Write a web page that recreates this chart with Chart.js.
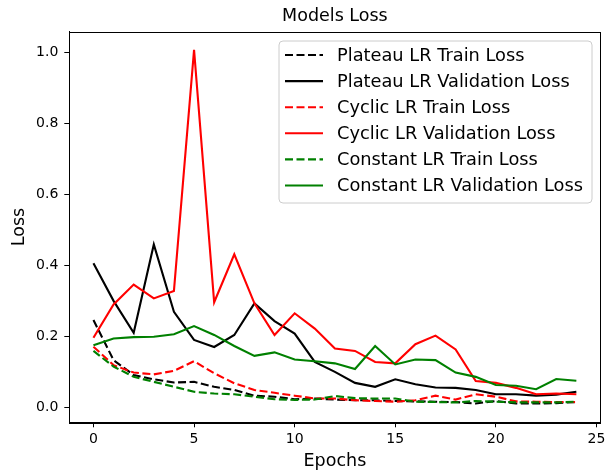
<!DOCTYPE html>
<html>
<head>
<meta charset="utf-8">
<script src="https://cdn.jsdelivr.net/npm/chart.js@4"></script>
<style>
  html, body { margin: 0; padding: 0; background: #fff; }
  #graf { display: block; }
</style>
</head>
<body>
<canvas id="graf" width="613" height="474"></canvas>
<script>
// datos
const epochs = [0, 1, 2, 3, 4, 5, 6, 7, 8, 9, 10, 11, 12, 13, 14, 15, 16, 17, 18, 19, 20, 21, 22, 23, 24];
const xTicks = [0, 5, 10, 15, 20, 25];
const yTicks = [0.0, 0.2, 0.4, 0.6, 0.8, 1.0];

const plateauTrain = [0.246, 0.133, 0.091, 0.079, 0.070, 0.072, 0.058, 0.049, 0.033, 0.030, 0.023, 0.025, 0.022, 0.020, 0.020, 0.018, 0.017, 0.016, 0.015, 0.011, 0.018, 0.011, 0.011, 0.012, 0.015];
const plateauVal = [0.406, 0.300, 0.210, 0.459, 0.269, 0.190, 0.170, 0.204, 0.293, 0.243, 0.208, 0.128, 0.100, 0.069, 0.058, 0.079, 0.065, 0.056, 0.055, 0.049, 0.037, 0.037, 0.033, 0.036, 0.044];
const cyclicTrain = [0.171, 0.119, 0.098, 0.093, 0.103, 0.130, 0.096, 0.068, 0.049, 0.041, 0.033, 0.025, 0.025, 0.020, 0.018, 0.016, 0.020, 0.033, 0.022, 0.037, 0.030, 0.017, 0.016, 0.015, 0.015];
const cyclicVal = [0.196, 0.290, 0.346, 0.307, 0.328, 1.007, 0.296, 0.431, 0.293, 0.204, 0.265, 0.222, 0.166, 0.159, 0.128, 0.124, 0.178, 0.202, 0.163, 0.074, 0.069, 0.055, 0.037, 0.039, 0.037];
const constantTrain = [0.159, 0.115, 0.086, 0.072, 0.058, 0.044, 0.039, 0.037, 0.030, 0.023, 0.021, 0.022, 0.032, 0.026, 0.025, 0.025, 0.016, 0.015, 0.014, 0.018, 0.016, 0.014, 0.014, 0.014, 0.016];
const constantVal = [0.175, 0.194, 0.198, 0.199, 0.206, 0.229, 0.204, 0.173, 0.145, 0.155, 0.135, 0.130, 0.124, 0.108, 0.173, 0.121, 0.135, 0.133, 0.098, 0.086, 0.063, 0.061, 0.051, 0.080, 0.075];

const fuente = "'DejaVu Sans', sans-serif";
const dash = [8, 3.5];

function serie(label, vals, color, dashed, orden) {
    return {
        label: label,
        data: epochs.map((e, i) => ({ x: e, y: vals[i] })),
        borderColor: color,
        backgroundColor: color,
        borderWidth: 2.1,
        borderDash: dashed ? dash : [],
        pointRadius: 0,
        tension: 0,
        fill: false,
        order: orden
    };
}

// marco completo de los ejes (arriba y derecha)
const marcoPlugin = {
    id: 'marco',
    beforeDatasetsDraw(chart) {
        const a = chart.chartArea, c = chart.ctx;
        c.save();
        c.strokeStyle = '#000';
        c.lineWidth = 1;
        c.strokeRect(Math.round(a.left) + 0.5, Math.round(a.top) + 0.5, Math.round(a.right - a.left), Math.round(a.bottom - a.top));
        c.restore();
    }
};

// leyenda dentro del area, arriba a la derecha
const leyendaPlugin = {
    id: 'leyendaDentro',
    afterDatasetsDraw(chart) {
        const c = chart.ctx;
        const x0 = 279, y0 = 41, w = 313, h = 162, r = 4;
        c.save();
        c.beginPath();
        c.moveTo(x0 + r, y0);
        c.arcTo(x0 + w, y0, x0 + w, y0 + h, r);
        c.arcTo(x0 + w, y0 + h, x0, y0 + h, r);
        c.arcTo(x0, y0 + h, x0, y0, r);
        c.arcTo(x0, y0, x0 + w, y0, r);
        c.closePath();
        c.fillStyle = 'rgba(255,255,255,0.8)';
        c.fill();
        c.strokeStyle = '#cccccc';
        c.lineWidth = 1;
        c.stroke();
        c.font = '17.8px ' + fuente;
        c.textBaseline = 'middle';
        c.textAlign = 'left';
        chart.data.datasets.forEach((ds, i) => {
            const yy = 55 + i * 26.1;
            c.beginPath();
            c.setLineDash(ds.borderDash);
            c.strokeStyle = ds.borderColor;
            c.lineWidth = ds.borderWidth;
            c.moveTo(285, yy);
            c.lineTo(323, yy);
            c.stroke();
            c.setLineDash([]);
            c.fillStyle = '#000';
            c.fillText(ds.label, 337, yy + 1);
        });
        c.restore();
    }
};

const ctx = document.getElementById('graf').getContext('2d');
const config = {
    type: 'line',
    data: {
        datasets: [
            serie('Plateau LR Train Loss', plateauTrain, '#000000', true, 5),
            serie('Plateau LR Validation Loss', plateauVal, '#000000', false, 4),
            serie('Cyclic LR Train Loss', cyclicTrain, '#ff0000', true, 3),
            serie('Cyclic LR Validation Loss', cyclicVal, '#ff0000', false, 2),
            serie('Constant LR Train Loss', constantTrain, '#008000', true, 1),
            serie('Constant LR Validation Loss', constantVal, '#008000', false, 0)
        ]
    },
    options: {
        responsive: false,
        animation: false,
        devicePixelRatio: 1,
        layout: { padding: { left: 0, right: 12.5, top: 0, bottom: 0 } },
        plugins: {
            legend: { display: false },
            tooltip: { enabled: false },
            title: {
                display: true,
                text: 'Models Loss',
                fullSize: false,
                color: '#000',
                font: { family: fuente, size: 17.5, weight: 'normal', lineHeight: 1.2 },
                padding: { top: 6, bottom: 4.7 }
            }
        },
        scales: {
            x: {
                type: 'linear',
                min: -1.2,
                max: 25.2,
                afterBuildTicks: s => { s.ticks = xTicks.map(v => ({ value: v })); },
                afterFit: s => { s.height = 51.7; },
                grid: { drawOnChartArea: false, drawTicks: true, tickLength: 5, tickColor: '#000', tickWidth: 1 },
                border: { display: true, color: '#000', width: 1 },
                ticks: { color: '#000', font: { family: fuente, size: 14 }, padding: 4, maxRotation: 0, callback: v => String(v) },
                title: { display: true, text: 'Epochs', color: '#000', font: { family: fuente, size: 17.5 }, padding: { top: 0, bottom: 2 } }
            },
            y: {
                type: 'linear',
                min: -0.042,
                max: 1.058,
                afterBuildTicks: s => { s.ticks = yTicks.map(v => ({ value: v })); },
                afterFit: s => { s.width = 69.3; },
                grid: { drawOnChartArea: false, drawTicks: true, tickLength: 5, tickColor: '#000', tickWidth: 1 },
                border: { display: true, color: '#000', width: 1 },
                ticks: { color: '#000', font: { family: fuente, size: 14 }, padding: 6, callback: v => v.toFixed(1) },
                title: { display: true, text: 'Loss', color: '#000', font: { family: fuente, size: 17.5 }, padding: { top: 9, bottom: 0 } }
            }
        }
    },
    plugins: [marcoPlugin, leyendaPlugin]
};
const grafChart = new Chart(ctx, config);
</script>
</body>
</html>
